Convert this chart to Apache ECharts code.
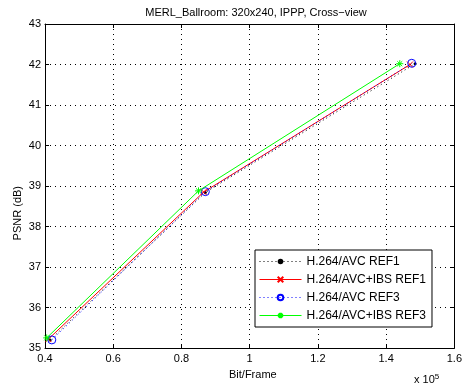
<!DOCTYPE html>
<html>
<head>
<meta charset="utf-8">
<script src="https://cdn.jsdelivr.net/npm/echarts@6/dist/echarts.min.js"></script>
<style>
  html, body { margin: 0; padding: 0; background: #fff; }
  #main { width: 465px; height: 392px; }
</style>
</head>
<body>
<div id="main"></div>
<script>
// bit/frame in units of 1e5, PSNR in dB
const avcRef1X = [0.415, 0.870, 1.485];
const avcRef1Y = [35.20, 38.84, 42.02];
const ibsRef1X = [0.410, 0.865, 1.470];
const ibsRef1Y = [35.22, 38.85, 42.00];
const avcRef3X = [0.420, 0.870, 1.475];
const avcRef3Y = [35.20, 38.86, 42.03];
const ibsRef3X = [0.405, 0.850, 1.440];
const ibsRef3Y = [35.25, 38.88, 42.02];
const xTicks = [0.4, 0.6, 0.8, 1, 1.2, 1.4, 1.6];
const yTicks = [35, 36, 37, 38, 39, 40, 41, 42, 43];

const font = 'Liberation Sans, Arial, sans-serif';
const pair = (xs, ys) => xs.map((x, i) => [x, ys[i]]);

const chart = echarts.init(document.getElementById('main'));

const xAx = (pos, labels) => ({
  type: 'value', position: pos,
  min: xTicks[0], max: xTicks[xTicks.length - 1], interval: 0.2,
  axisLine: { show: true, lineStyle: { color: '#000', width: 1 } },
  axisTick: { show: true, inside: true, length: 4, lineStyle: { color: '#000' } },
  axisLabel: { show: labels, color: '#000', fontFamily: font, fontSize: 11, margin: 5,
    formatter: v => String(+v.toFixed(1)) },
  splitLine: { show: labels, lineStyle: { color: '#000', type: [1, 4], width: 1 } }
});
const yAx = (pos, labels) => ({
  type: 'value', position: pos,
  min: yTicks[0], max: yTicks[yTicks.length - 1], interval: 1,
  axisLine: { show: true, lineStyle: { color: '#000', width: 1 } },
  axisTick: { show: true, inside: true, length: 4, lineStyle: { color: '#000' } },
  axisLabel: { show: labels, color: '#000', fontFamily: font, fontSize: 11, margin: 4 },
  splitLine: { show: labels, lineStyle: { color: '#000', type: [1, 4], width: 1 } }
});

const xMark = 'path://M0,0L10,10M10,0L0,10';
const starMark = 'path://M5,0L5,10M0,5L10,5M1.5,1.5L8.5,8.5M8.5,1.5L1.5,8.5';

chart.setOption({
  animation: false,
  backgroundColor: '#fff',
  title: {
    text: 'MERL_Ballroom: 320x240, IPPP, Cross\u2212view',
    left: 251, top: 2, textAlign: 'center',
    textStyle: { fontFamily: font, fontSize: 11, fontWeight: 'normal', color: '#000' }
  },
  grid: { left: 45, right: 8, top: 24, bottom: 44 },
  xAxis: [xAx('bottom', true), xAx('top', false)],
  yAxis: [yAx('left', true), yAx('right', false)],
  legend: {
    orient: 'vertical', left: 255, top: 250,
    backgroundColor: '#fff', borderColor: '#000', borderWidth: 1,
    padding: [5, 6, 5, 4], itemGap: 5, itemWidth: 42, itemHeight: 7,
    lineStyle: { width: 1 },
    textStyle: { fontFamily: font, fontSize: 12, color: '#000', lineHeight: 13 },
    data: ['H.264/AVC REF1', 'H.264/AVC+IBS REF1', 'H.264/AVC REF3', 'H.264/AVC+IBS REF3']
  },
  graphic: [
    { type: 'text', left: 12, top: 186, rotation: Math.PI / 2,
      style: { text: 'PSNR (dB)', fontFamily: font, fontSize: 11, fill: '#000', align: 'center', verticalAlign: 'middle' } },
    { type: 'text', left: 229, top: 369,
      style: { text: 'Bit/Frame', fontFamily: font, fontSize: 11, fill: '#000' } },
    { type: 'text', left: 414, top: 373,
      style: { text: 'x 10{s|5}', fontFamily: font, fontSize: 11, fill: '#000',
        rich: { s: { fontSize: 8, fontFamily: font, verticalAlign: 'top', padding: [0, 0, 6, 0] } } } }
  ],
  series: [
    { name: 'H.264/AVC REF1', type: 'line', data: pair(avcRef1X, avcRef1Y),
      symbol: 'circle', symbolSize: 3, z: 2,
      lineStyle: { color: '#000', width: 1, type: [1, 3] },
      itemStyle: { color: '#000' } },
    { name: 'H.264/AVC+IBS REF1', type: 'line', data: pair(ibsRef1X, ibsRef1Y),
      symbol: xMark, symbolSize: 6, z: 3,
      lineStyle: { color: '#ff0000', width: 1 },
      itemStyle: { color: 'transparent', borderColor: '#ff0000', borderWidth: 1 } },
    { name: 'H.264/AVC REF3', type: 'line', data: pair(avcRef3X, avcRef3Y),
      symbol: 'circle', symbolSize: 8, z: 4,
      lineStyle: { color: '#0000ff', width: 1, type: [1, 3] },
      itemStyle: { color: 'transparent', borderColor: '#0000ff', borderWidth: 1 } },
    { name: 'H.264/AVC+IBS REF3', type: 'line', data: pair(ibsRef3X, ibsRef3Y),
      symbol: starMark, symbolSize: 7, z: 5,
      lineStyle: { color: '#00ff00', width: 1 },
      itemStyle: { color: 'transparent', borderColor: '#00ff00', borderWidth: 1 } }
  ]
});
</script>
</body>
</html>
